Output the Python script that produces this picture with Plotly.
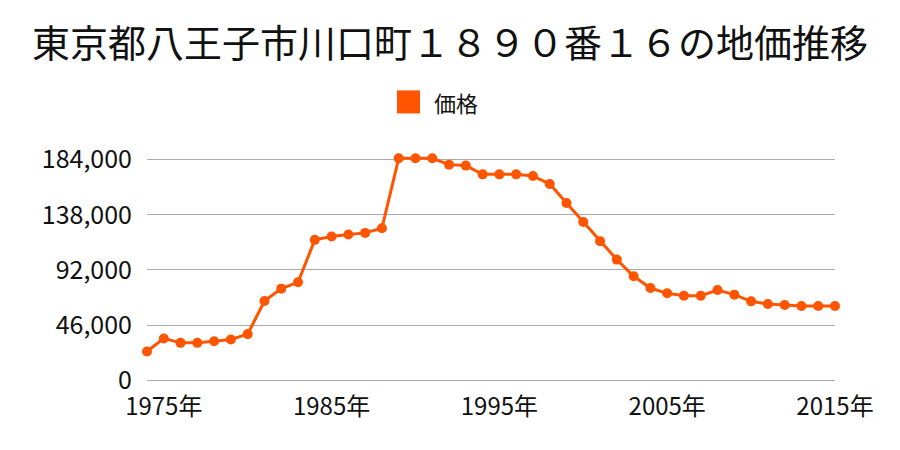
import plotly.graph_objects as go

years = list(range(1974, 2016))
prices = [24000, 34900, 31200, 31200, 32600, 34000, 38500, 66100, 76400, 81700,
          117100, 119900, 121500, 122900, 126800, 185100, 185100, 185100, 179800, 179000,
          171700, 171700, 171700, 170300, 163700, 147800, 131900, 116000, 100600, 86700,
          76900, 72500, 70500, 70500, 75300, 71400, 65800, 63600, 62700, 61900,
          61900, 61900]
tick_years = [1975, 1985, 1995, 2005, 2015]
tick_labels = [f"{y}年" for y in tick_years]
y_ticks = [0, 46000, 92000, 138000, 184000]
y_tick_labels = ["0", "46,000", "92,000", "138,000", "184,000"]
title = "東京都八王子市川口町１８９０番１６の地価推移"
series_name = "価格"

COLOR = "#ff5500"
FONT = "Noto Sans CJK JP"

W, H = 900, 450
# pixel geometry: y=0 at 380px, y=184000 at 160px
per_px = 184000 / 220
y_lo, y_hi = -600, 187000
L, R = 147, 65
B = (H - 380) - (0 - y_lo) / per_px
T = 160 - (y_hi - 184000) / per_px
pw, ph = W - L - R, H - T - B

fig = go.Figure()
fig.add_trace(go.Scatter(
    x=years, y=prices, mode="lines+markers", name=series_name,
    line=dict(color=COLOR, width=3),
    marker=dict(color=COLOR, size=10),
    cliponaxis=False, showlegend=False,
))


def px_x(p):
    return (p - L) / pw


def px_y(p):
    return (H - B - p) / ph


fig.add_shape(type="rect", xref="paper", yref="paper",
              x0=px_x(397), x1=px_x(420), y0=px_y(114), y1=px_y(91),
              fillcolor=COLOR, line=dict(width=0))
fig.add_annotation(xref="paper", yref="paper", x=px_x(432), y=px_y(102.5),
                   text=series_name, showarrow=False, xanchor="left", yanchor="middle",
                   font=dict(size=22, color="#111", family=FONT))

fig.update_layout(
    width=W, height=H,
    margin=dict(l=L, r=R, t=T, b=B),
    paper_bgcolor="white", plot_bgcolor="white",
    font=dict(family=FONT, color="#111"),
    title=dict(text=title, x=0.5, xanchor="center", y=1 - 44 / H, yanchor="middle",
               font=dict(size=38, color="#111", family=FONT)),
    xaxis=dict(range=[1974, 2015], tickvals=tick_years, ticktext=tick_labels,
               showgrid=False, zeroline=False, showline=False,
               ticks="", tickfont=dict(size=24, color="#111"), ticklabelstandoff=9),
    yaxis=dict(range=[y_lo, y_hi], tickvals=y_ticks, ticktext=y_tick_labels,
               showgrid=True, gridcolor="#aaaaaa", gridwidth=1,
               zeroline=True, zerolinecolor="#aaaaaa", zerolinewidth=1,
               showline=False, ticks="", tickfont=dict(size=25, color="#111"),
               ticklabelstandoff=14),
)

fig.write_html("out.html")
